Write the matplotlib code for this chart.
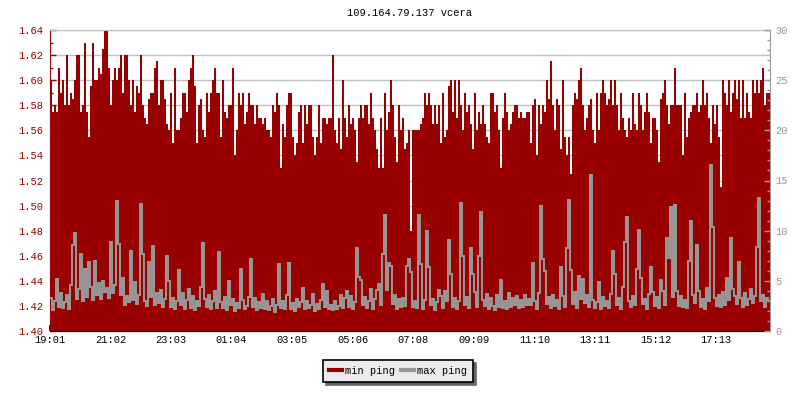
import numpy as np
import matplotlib.pyplot as plt
from matplotlib.lines import Line2D
from matplotlib.ticker import MultipleLocator

# min ping (ms), one value per 4 minutes, left axis
min_ping = [
    1.60, 1.575, 1.58, 1.575, 1.61, 1.59, 1.60, 1.58, 1.62, 1.58,
    1.59, 1.585, 1.60, 1.62, 1.62, 1.575, 1.58, 1.63, 1.575, 1.555,
    1.595, 1.63, 1.60, 1.60, 1.61, 1.605, 1.625, 1.64, 1.64, 1.61,
    1.58, 1.60, 1.61, 1.60, 1.61, 1.62, 1.59, 1.62, 1.62, 1.60,
    1.58, 1.60, 1.575, 1.595, 1.59, 1.62, 1.58, 1.57, 1.565, 1.585,
    1.59, 1.59, 1.61, 1.615, 1.58, 1.60, 1.60, 1.585, 1.565, 1.56,
    1.59, 1.55, 1.61, 1.56, 1.56, 1.57, 1.59, 1.59, 1.575, 1.60,
    1.61, 1.62, 1.595, 1.55, 1.58, 1.585, 1.56, 1.555, 1.59, 1.575,
    1.59, 1.60, 1.61, 1.59, 1.59, 1.555, 1.60, 1.575, 1.57, 1.58,
    # 01:04 ...
    1.58, 1.61, 1.54, 1.56, 1.59, 1.58, 1.59, 1.565, 1.575, 1.59,
    1.58, 1.58, 1.565, 1.58, 1.57, 1.57, 1.565, 1.57, 1.56, 1.56,
    1.555, 1.58, 1.575, 1.59, 1.58, 1.53, 1.565, 1.555, 1.58, 1.59,
    1.59, 1.555, 1.54, 1.55, 1.575, 1.58, 1.55, 1.58, 1.565, 1.58,
    1.58, 1.555, 1.54, 1.555, 1.58, 1.55, 1.57, 1.57, 1.565, 1.57,
    1.57, 1.62, 1.56, 1.55, 1.57, 1.545, 1.60, 1.57, 1.555, 1.58,
    1.565, 1.57, 1.56, 1.535, 1.57, 1.58, 1.57, 1.58, 1.58, 1.565,
    1.59, 1.57, 1.56, 1.545, 1.53, 1.57, 1.53, 1.59, 1.56, 1.575,
    1.60, 1.58, 1.555, 1.535, 1.58, 1.56, 1.57, 1.545, 1.55, 1.56,
    # 07:08 ...
    1.48, 1.56, 1.56, 1.56, 1.56, 1.565, 1.57, 1.59, 1.58, 1.59,
    1.58, 1.565, 1.58, 1.565, 1.58, 1.55, 1.59, 1.555, 1.56, 1.595,
    1.60, 1.575, 1.60, 1.57, 1.60, 1.58, 1.56, 1.59, 1.575, 1.58,
    1.565, 1.545, 1.59, 1.56, 1.575, 1.565, 1.58, 1.565, 1.555, 1.55,
    1.59, 1.59, 1.575, 1.58, 1.56, 1.53, 1.57, 1.59, 1.575, 1.56,
    1.565, 1.575, 1.58, 1.58, 1.57, 1.575, 1.57, 1.57, 1.575, 1.575,
    1.55, 1.58, 1.585, 1.54, 1.58, 1.565, 1.58, 1.575, 1.60, 1.585,
    1.615, 1.58, 1.56, 1.585, 1.58, 1.545, 1.60, 1.555, 1.54, 1.555,
    1.525, 1.58, 1.59, 1.585, 1.60, 1.61, 1.58, 1.56, 1.57, 1.58,
    # 13:11 ...
    1.585, 1.56, 1.55, 1.59, 1.56, 1.59, 1.60, 1.59, 1.58, 1.585,
    1.60, 1.58, 1.60, 1.58, 1.56, 1.59, 1.57, 1.56, 1.555, 1.57,
    1.56, 1.59, 1.565, 1.56, 1.59, 1.58, 1.56, 1.575, 1.59, 1.575,
    1.55, 1.57, 1.57, 1.56, 1.535, 1.585, 1.59, 1.60, 1.58, 1.565,
    1.58, 1.58, 1.61, 1.58, 1.58, 1.58, 1.54, 1.59, 1.555, 1.57,
    1.575, 1.58, 1.58, 1.59, 1.575, 1.58, 1.60, 1.58, 1.59, 1.57,
    1.55, 1.58, 1.565, 1.58, 1.555, 1.515, 1.60, 1.59, 1.58, 1.60,
    1.575, 1.59, 1.60, 1.585, 1.60, 1.57, 1.60, 1.57, 1.59, 1.575,
    1.57, 1.60, 1.59, 1.60, 1.59, 1.60, 1.61, 1.58, 1.59, 1.59,
]

# max ping (ms), same sampling, right axis
max_ping = [
    3.3, 2.1, 3.0, 5.2, 2.4, 3.8, 2.3, 2.9, 3.6, 2.2,
    4.6, 8.6, 9.8, 3.2, 4.2, 7.7, 3.0, 6.2, 3.4, 6.9,
    4.4, 3.1, 7.0, 3.6, 4.8, 3.2, 5.0, 3.9, 4.3, 3.3,
    8.9, 3.8, 4.6, 13.0, 8.7, 3.6, 5.3, 2.6, 3.5, 2.9,
    8.0, 3.1, 4.9, 2.7, 3.6, 12.7, 7.7, 3.0, 2.5, 6.9,
    3.4, 8.5, 2.6, 3.8, 2.8, 4.1, 2.4, 3.2, 7.5, 5.0,
    2.4, 3.3, 2.2, 3.0, 6.1, 2.6, 3.8, 2.2, 3.1, 4.2,
    2.3, 3.5, 2.1, 3.0, 2.5, 4.4, 8.8, 3.2, 2.4, 3.6,
    2.2, 3.0, 4.0, 2.3, 7.9, 2.9, 2.3, 3.4, 2.1, 5.0,
    2.6, 3.2, 2.0, 2.8, 2.3, 6.2, 3.1, 2.2, 2.5, 3.4,
    7.2, 2.4, 3.3, 2.1, 2.9, 2.3, 3.7, 2.2, 3.0, 2.1,
    2.5, 3.2, 1.9, 2.6, 6.7, 2.3, 3.0, 2.2, 3.6, 6.8,
    2.2, 2.8, 2.0, 3.2, 2.4, 2.9, 4.3, 2.2, 3.0, 2.3,
    2.6, 3.7, 2.0, 2.7, 2.2, 3.1, 4.7, 2.4, 4.0, 2.2,
    2.6, 2.1, 3.0, 2.2, 2.5, 3.6, 2.3, 3.3, 4.0, 2.4,
    3.5, 2.2, 2.9, 8.3, 5.4, 5.1, 2.6, 3.4, 2.3, 3.0,
    4.2, 2.2, 3.2, 4.1, 4.7, 2.6, 7.7, 11.6, 4.1, 6.8,
    6.5, 2.7, 3.6, 2.2, 3.2, 2.4, 3.3, 2.5, 6.5, 7.2,
    5.9, 2.4, 3.0, 2.3, 11.6, 6.7, 2.2, 3.1, 10.0, 6.4,
    2.6, 3.2, 2.1, 2.9, 4.1, 3.5, 2.3, 4.0, 3.0, 9.1,
    5.7, 2.4, 3.3, 2.2, 3.0, 12.8, 7.5, 2.6, 3.4, 2.3,
    8.3, 5.7, 3.9, 2.4, 7.5, 11.9, 3.1, 2.5, 3.7, 2.2,
    3.3, 2.5, 2.1, 3.6, 2.4, 5.1, 2.3, 3.0, 2.2, 3.8,
    2.4, 3.3, 2.6, 3.5, 2.3, 3.1, 2.4, 3.6, 2.6, 3.2,
    2.6, 6.8, 3.0, 2.2, 3.8, 12.5, 7.2, 6.0, 2.7, 3.4,
    2.3, 3.6, 2.5, 3.1, 2.2, 6.4, 3.5, 2.4, 8.3, 13.1,
    6.1, 2.7, 3.9, 2.3, 5.5, 3.2, 5.2, 2.8, 3.6, 2.4,
    15.5, 3.1, 2.3, 2.9, 4.9, 2.2, 3.4, 2.5, 3.0, 2.3,
    3.7, 8.0, 5.7, 2.6, 3.3, 2.2, 4.4, 8.9, 11.4, 3.0,
    2.4, 3.5, 2.6, 6.2, 10.1, 5.3, 2.7, 3.2, 2.2, 3.7,
    6.4, 3.9, 2.5, 3.4, 2.3, 5.1, 4.0, 2.6, 9.3, 7.3,
    12.4, 3.4, 12.6, 4.0, 2.5, 3.5, 2.4, 3.1, 2.3, 7.0,
    11.0, 3.6, 2.8, 8.6, 4.0, 2.4, 3.2, 2.2, 4.3, 3.0,
    16.5, 10.4, 3.3, 2.5, 3.6, 2.4, 3.9, 2.6, 5.3, 3.1,
    9.3, 4.2, 3.5, 2.7, 6.9, 3.3, 2.4, 3.8, 2.6, 3.2,
    4.2, 2.8, 3.5, 8.4, 13.3, 3.0, 3.6, 2.4, 3.3, 3.0,
]

time_labels = ['19:01', '21:02', '23:03', '01:04', '03:05', '05:06',
               '07:08', '09:09', '11:10', '13:11', '15:12', '17:13']

RED = '#990000'
GRAY = '#999999'
GRID = '#c0c0c0'

plt.rcParams['font.family'] = ['Liberation Mono', 'DejaVu Sans Mono']
plt.rcParams['font.size'] = 7.5


def minutes(lbl):
    h, m = map(int, lbl.split(':'))
    return (h * 60 + m - (19 * 60 + 1)) % 1440


fig = plt.figure(figsize=(8, 4), dpi=100)
ax = fig.add_axes([0.0625, 0.1725, 0.9, 0.7525])
ax2 = ax.twinx()

edges = np.linspace(0, 1440, len(min_ping) + 1)
ax.stairs(min_ping, edges, baseline=1.40, fill=True, color=RED, lw=0)
ax2.stairs(max_ping, edges, baseline=None, color=GRAY, lw=1.4)

ax.set_xlim(0, 1440)
ax.set_ylim(1.40, 1.64)
ax2.set_ylim(0, 30)

ax.set_xticks([minutes(t) for t in time_labels])
ax.set_xticklabels(time_labels)
ax.set_yticks(np.arange(1.40, 1.6401, 0.02))
ax.set_yticklabels([f'{v:.2f}' for v in np.arange(1.40, 1.6401, 0.02)])
ax.yaxis.set_minor_locator(MultipleLocator(0.01))
ax2.set_yticks(range(0, 31, 5))
ax2.yaxis.set_minor_locator(MultipleLocator(1))

ax.tick_params(axis='x', direction='in', length=4, width=1.2, color='black', pad=3)
ax.tick_params(axis='y', which='major', direction='in', length=4, width=1,
               color=RED, labelcolor=RED, pad=5)
ax.tick_params(axis='y', which='minor', direction='in', length=2.5, width=1, color=RED)
ax2.tick_params(axis='y', which='major', direction='in', length=4, width=1,
                color=GRAY, labelcolor=GRAY, pad=4)
ax2.tick_params(axis='y', which='minor', direction='in', length=2.5, width=1, color=GRAY)

ax.grid(axis='y', color=GRID, lw=1)
ax.set_axisbelow(True)

ax.spines['left'].set_color(RED)
ax.spines['bottom'].set_color('black')
ax.spines['top'].set_color(GRID)
ax.spines['right'].set_visible(False)
for s in ['left', 'top', 'bottom']:
    ax2.spines[s].set_visible(False)
ax2.spines['right'].set_color(GRAY)

fig.text(0.5125, 1 - 13 / 400, '109.164.79.137 vcera', ha='center', va='center')

handles = [Line2D([], [], color=RED, lw=3), Line2D([], [], color=GRAY, lw=3)]
leg = fig.legend(handles, ['min ping', 'max ping'], loc='center',
                 bbox_to_anchor=(398 / 800, 1 - 371 / 400), ncol=2,
                 fancybox=False, shadow={'color': '#666666', 'alpha': 1},
                 edgecolor='black', facecolor='#ebebeb', framealpha=1,
                 handlelength=1.2, handletextpad=0.3, columnspacing=0.6,
                 borderpad=0.6)
leg.get_frame().set_linewidth(1.2)

plt.savefig('out.png', dpi=100)
